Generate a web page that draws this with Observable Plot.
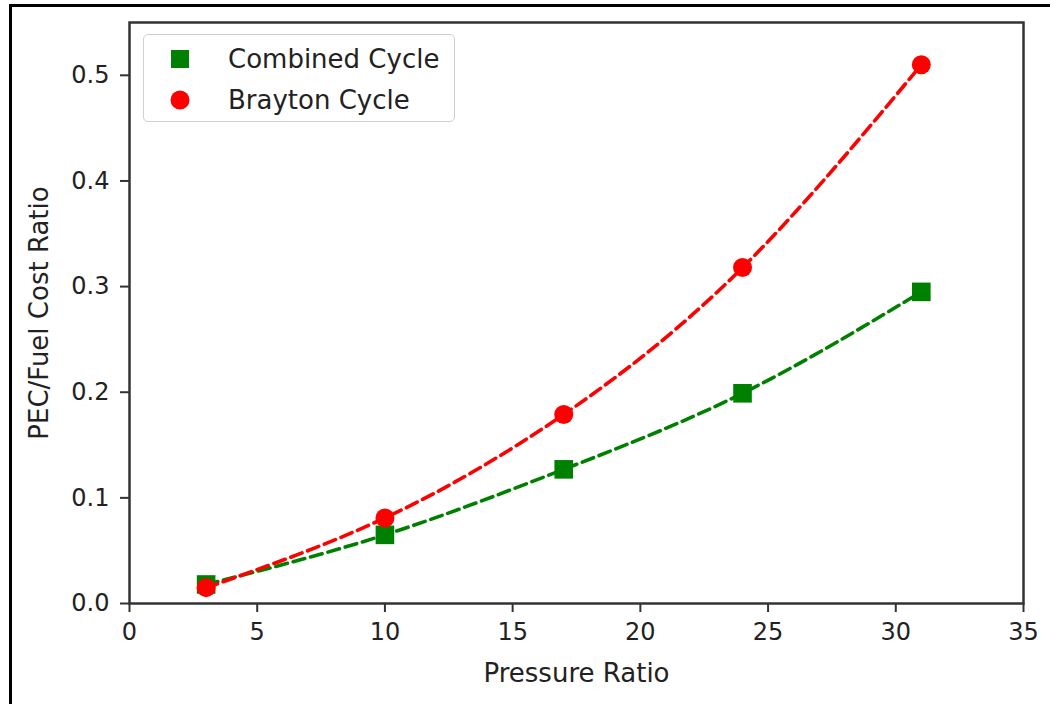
<!DOCTYPE html>
<html>
<head>
<meta charset="utf-8">
<script src="https://cdn.jsdelivr.net/npm/d3@7"></script>
<script src="https://cdn.jsdelivr.net/npm/@observablehq/plot@0.6"></script>
<style>
  html, body { margin: 0; padding: 0; background: #fff; overflow: hidden; }
  #wrap { position: relative; width: 1050px; height: 704px; }
  #border { position: absolute; left: 9px; top: 4px; width: 1100px; height: 800px;
            border: 3px solid #000; box-sizing: border-box; pointer-events: none; }
  #legend { position: absolute; left: 143px; top: 34px; width: 312px; height: 88px;
            box-sizing: border-box; border: 1.5px solid #d0d0d0; border-radius: 5px;
            background: rgba(255,255,255,0.85); font-family: "DejaVu Sans", sans-serif;
            font-size: 26px; color: #222; }
  .item { position: absolute; left: 0; height: 30px; display: flex; align-items: center; }
  .item svg { position: absolute; left: 26px; }
  .item span { position: absolute; left: 84px; white-space: nowrap; }
</style>
</head>
<body>
<div id="wrap">
  <div id="chart"></div>
  <div id="border"></div>
  <div id="legend"></div>
</div>
<script>
// Pressure ratios and the PEC / fuel cost ratio for each cycle
const pressureRatio = [3, 10, 17, 24, 31];
const combinedCycle = [0.018, 0.065, 0.127, 0.199, 0.295];
const braytonCycle  = [0.015, 0.081, 0.179, 0.318, 0.510];

const xTicks = [0, 5, 10, 15, 20, 25, 30, 35];
const yTicks = [0.0, 0.1, 0.2, 0.3, 0.4, 0.5];

const seriesNames  = ["Combined Cycle", "Brayton Cycle"];
const seriesColors = ["#008000", "#ff0000"];

const combined = pressureRatio.map((x, i) => ({x, y: combinedCycle[i]}));
const brayton  = pressureRatio.map((x, i) => ({x, y: braytonCycle[i]}));

const font = "DejaVu Sans, sans-serif";

const chart = Plot.plot({
  width: 1050,
  height: 704,
  marginLeft: 129,
  marginRight: 27,
  marginTop: 22,
  marginBottom: 101,
  style: {fontFamily: font, fontSize: "24px", color: "#222", background: "transparent"},
  x: {domain: [0, 35]},
  y: {domain: [0, 0.55]},
  marks: [
    Plot.axisX({ticks: xTicks, tickSize: 9, tickPadding: 10, stroke: "#333", strokeWidth: 2,
                label: null}),
    Plot.axisX({ticks: [], label: "Pressure Ratio", labelAnchor: "center", labelArrow: "none",
                labelOffset: 78, fontSize: 26}),
    Plot.axisY({ticks: yTicks, tickFormat: d3.format(".1f"), tickSize: 9, tickPadding: 11,
                stroke: "#333", strokeWidth: 2, label: null}),
    Plot.axisY({ticks: [], label: "PEC/Fuel Cost Ratio", labelAnchor: "center", labelArrow: "none",
                labelOffset: 100, fontSize: 26}),
    Plot.frame({stroke: "#333", strokeWidth: 2.5}),
    // Combined cycle: smooth dashed trend and square markers
    Plot.line(combined, {x: "x", y: "y", curve: "natural", stroke: seriesColors[0],
                         strokeWidth: 3.6, strokeDasharray: "12,6"}),
    Plot.dot(combined, {x: "x", y: "y", symbol: "square", r: 10.5, fill: seriesColors[0], stroke: "none"}),
    // Brayton cycle: smooth dashed trend and circle markers
    Plot.line(brayton, {x: "x", y: "y", curve: "natural", stroke: seriesColors[1],
                        strokeWidth: 3.6, strokeDasharray: "12,6"}),
    Plot.dot(brayton, {x: "x", y: "y", symbol: "circle", r: 9.5, fill: seriesColors[1], stroke: "none"})
  ]
});
document.getElementById("chart").appendChild(chart);

// Legend box inside the plot area
const legend = document.getElementById("legend");
const symbols = ["square", "circle"];
seriesNames.forEach((name, i) => {
  const item = document.createElement("div");
  item.className = "item";
  item.style.top = (i === 0 ? 9 : 50) + "px";
  const sw = symbols[i] === "square"
    ? `<rect x="1" y="6" width="18" height="18" fill="${seriesColors[i]}"/>`
    : `<circle cx="10" cy="15" r="9.5" fill="${seriesColors[i]}"/>`;
  item.innerHTML = `<svg width="20" height="30">${sw}</svg><span>${name}</span>`;
  legend.appendChild(item);
});
</script>
</body>
</html>
